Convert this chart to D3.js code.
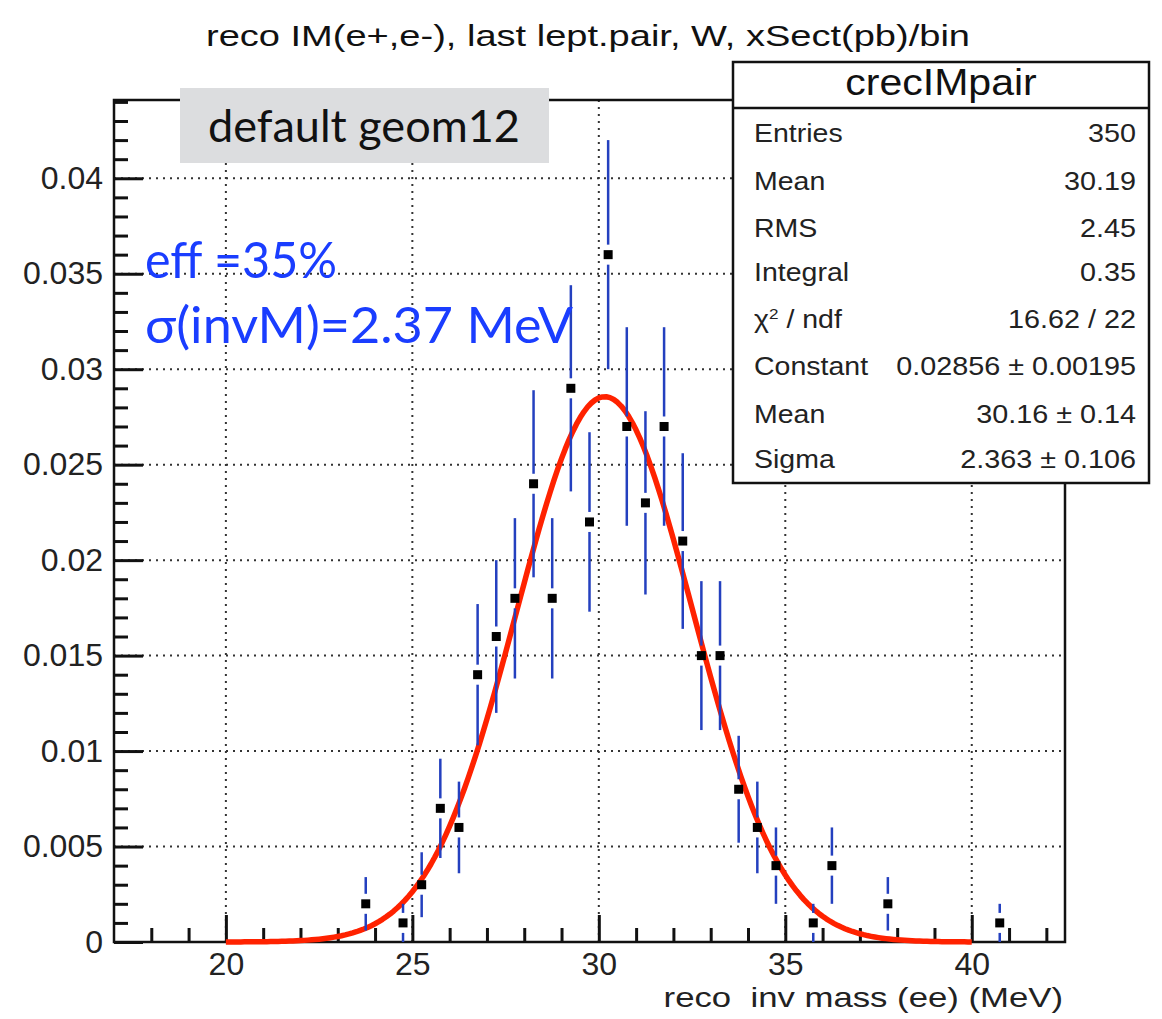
<!DOCTYPE html>
<html><head><meta charset="utf-8">
<script src="https://cdn.jsdelivr.net/npm/d3@7"></script>
<style>body{margin:0;background:#fff} text{white-space:pre}</style>
</head><body>
<svg id="c" width="1162" height="1019"></svg>
<script>
// ---- data ----
const binCenters = [23.75, 24.75, 25.25, 25.75, 26.25, 26.75, 27.25, 27.75, 28.25, 28.75, 29.25, 29.75, 30.25, 30.75, 31.25, 31.75, 32.25, 32.75, 33.25, 33.75, 34.25, 34.75, 35.75, 36.25, 37.75, 40.75];
const binValues  = [0.002, 0.001, 0.003, 0.007, 0.006, 0.014, 0.016, 0.018, 0.024, 0.018, 0.029, 0.022, 0.036, 0.027, 0.023, 0.027, 0.021, 0.015, 0.015, 0.008, 0.006, 0.004, 0.001, 0.004, 0.002, 0.001];
const binErrors  = [0.0014, 0.001, 0.0017, 0.0026, 0.0024, 0.0037, 0.004, 0.0042, 0.0049, 0.0042, 0.0054, 0.0047, 0.006, 0.0052, 0.0048, 0.0052, 0.0046, 0.0039, 0.0039, 0.0028, 0.0024, 0.002, 0.001, 0.002, 0.0014, 0.001];
const xTickValues = [20, 25, 30, 35, 40];
const xTickLabels = ["20", "25", "30", "35", "40"];
const yTickValues = [0, 0.005, 0.01, 0.015, 0.02, 0.025, 0.03, 0.035, 0.04];
const yTickLabels = ["0", "0.005", "0.01", "0.015", "0.02", "0.025", "0.03", "0.035", "0.04"];
const statsLabels = ["Entries", "Mean", "RMS", "Integral", "χ2 / ndf", "Constant", "Mean", "Sigma"];
const statsValues = ["350", "30.19", "2.45", "0.35", "16.62 / 22", "0.02856 ± 0.00195", "30.16 ± 0.14", "2.363 ± 0.106"];
const fitConstant = 0.02856, fitMean = 30.16, fitSigma = 2.363, fitRange = [20, 40];
const titleText = "reco IM(e+,e-), last lept.pair, W, xSect(pb)/bin";
const xTitle = "reco  inv mass (ee) (MeV)";
const statsName = "crecIMpair";
const noteText = "default geom12";
const effLines = ["eff =35%", "σ(invM)=2.37 MeV"];

// ---- layout ----
const svg = d3.select("#c");
const L = 114, R = 1065, T = 100, B = 942;
const x = d3.scaleLinear().domain([17, 42.5]).range([L, R]);
const y = d3.scaleLinear().domain([0, 0.0441]).range([B, T]);
const FONT = "'Liberation Sans', Arial, Helvetica, sans-serif";
const SANS2 = "Lato, 'Open Sans', sans-serif";

function stretch(sel, factor) {
  sel.each(function () {
    const w = this.getComputedTextLength();
    d3.select(this).attr("textLength", w * factor).attr("lengthAdjust", "spacingAndGlyphs");
  });
  return sel;
}
function fitWidth(sel, width) {
  return sel.attr("textLength", width).attr("lengthAdjust", "spacingAndGlyphs");
}

svg.append("rect").attr("width", 1162).attr("height", 1019).attr("fill", "#fff");

// title
fitWidth(svg.append("text").attr("x", 588).attr("y", 46).attr("text-anchor", "middle")
  .attr("font-family", FONT).attr("font-size", 30).attr("fill", "#111").text(titleText), 764);

// grid
const grid = svg.append("g").attr("stroke", "#333").attr("stroke-width", 2).attr("stroke-dasharray", "2,5");
grid.selectAll(".gx").data(xTickValues).join("line")
  .attr("x1", d => x(d)).attr("x2", d => x(d)).attr("y1", B).attr("y2", T);
grid.selectAll(".gy").data(yTickValues.filter(v => v > 0)).join("line")
  .attr("y1", d => y(d)).attr("y2", d => y(d)).attr("x1", L).attr("x2", R);

// frame
svg.append("rect").attr("x", L).attr("y", T).attr("width", R - L).attr("height", B - T)
  .attr("fill", "none").attr("stroke", "#111").attr("stroke-width", 2.5);

// axes
const xMinor = d3.range(18, 43, 1).filter(v => !xTickValues.includes(v));
const gxMinor = svg.append("g").attr("transform", `translate(0,${B})`)
  .call(d3.axisBottom(x).tickValues(xMinor).tickSizeInner(-14).tickSizeOuter(0).tickFormat(""));
const gx = svg.append("g").attr("transform", `translate(0,${B})`)
  .call(d3.axisBottom(x).tickValues(xTickValues).tickSizeInner(-27).tickSizeOuter(0).tickPadding(10)
    .tickFormat((d, i) => xTickLabels[i]));
const yMinorVals = d3.range(1, 45).map(k => k / 1000).filter(v => v <= 0.0441 && Math.round(v * 1000) % 5 !== 0);
const gyMinor = svg.append("g").attr("transform", `translate(${L},0)`)
  .call(d3.axisLeft(y).tickValues(yMinorVals).tickSizeInner(-14).tickSizeOuter(0).tickFormat(""));
const gy = svg.append("g").attr("transform", `translate(${L},0)`)
  .call(d3.axisLeft(y).tickValues(yTickValues).tickSizeInner(-29).tickSizeOuter(0).tickPadding(11)
    .tickFormat((d, i) => yTickLabels[i]));
[gx, gy, gxMinor, gyMinor].forEach(g => {
  g.selectAll("path.domain").remove();
  g.selectAll(".tick line").attr("stroke", "#111").attr("stroke-width", 3);
  g.selectAll("text").attr("font-family", FONT).attr("font-size", 32).attr("fill", "#222");
});
gx.selectAll("text").attr("dy", "0.71em");

// x title
stretch(svg.append("text").attr("x", 1063).attr("y", 1007).attr("text-anchor", "end")
  .attr("font-family", FONT).attr("font-size", 28).attr("fill", "#222").text(xTitle), 1.24);

// fit curve
const fitPts = d3.range(0, 201).map(i => {
  const xv = fitRange[0] + (fitRange[1] - fitRange[0]) * i / 200;
  return [xv, fitConstant * Math.exp(-0.5 * Math.pow((xv - fitMean) / fitSigma, 2))];
});
svg.append("path").datum(fitPts)
  .attr("d", d3.line().x(d => x(d[0])).y(d => y(d[1])))
  .attr("fill", "none").attr("stroke", "#ff2200").attr("stroke-width", 5.5).attr("stroke-linejoin", "round");

// error bars and markers
const pts = binCenters.map((c, i) => ({ c, v: binValues[i], e: binErrors[i] }));
const gap = 10;
const eb = svg.append("g").attr("stroke", "#2440bf").attr("stroke-width", 2.5);
pts.forEach(p => {
  const cx = x(p.c), cy = y(p.v), top = y(p.v + p.e), bot = y(Math.max(0, p.v - p.e));
  if (cy - gap > top) eb.append("line").attr("x1", cx).attr("x2", cx).attr("y1", top).attr("y2", cy - gap);
  if (bot > cy + gap) eb.append("line").attr("x1", cx).attr("x2", cx).attr("y1", cy + gap).attr("y2", bot);
});
svg.append("g").selectAll("rect").data(pts).join("rect")
  .attr("x", d => x(d.c) - 4.5).attr("y", d => y(d.v) - 4.5).attr("width", 9).attr("height", 9).attr("fill", "#000");

// stats box
const sb = svg.append("g");
sb.append("rect").attr("x", 733).attr("y", 62).attr("width", 416).attr("height", 421)
  .attr("fill", "#fff").attr("stroke", "#111").attr("stroke-width", 2.5);
sb.append("line").attr("x1", 733).attr("x2", 1149).attr("y1", 108).attr("y2", 108).attr("stroke", "#111").attr("stroke-width", 2.5);
stretch(sb.append("text").attr("x", 941).attr("y", 95).attr("text-anchor", "middle")
  .attr("font-family", FONT).attr("font-size", 36).attr("fill", "#111").text(statsName), 1.14);
const rowY = [141.7, 190, 236.7, 281, 328, 375, 423, 468];
statsLabels.forEach((lab, i) => {
  const t = sb.append("text").attr("x", 754).attr("y", rowY[i]).attr("font-family", FONT).attr("font-size", 25).attr("fill", "#222");
  if (lab.startsWith("χ2")) {
    t.append("tspan").text("χ");
    t.append("tspan").attr("dy", -9).attr("font-size", 15).text("2");
    t.append("tspan").attr("dy", 9).text(" / ndf");
  } else t.text(lab);
  stretch(t, 1.14);
  stretch(sb.append("text").attr("x", 1136).attr("y", rowY[i]).attr("text-anchor", "end")
    .attr("font-family", FONT).attr("font-size", 25).attr("fill", "#222").text(statsValues[i]), 1.15);
});

// note box
svg.append("rect").attr("x", 180).attr("y", 88).attr("width", 369).attr("height", 75).attr("fill", "#dcdddf");
fitWidth(svg.append("text").attr("x", 208).attr("y", 142).attr("font-family", SANS2)
  .attr("font-size", 44).attr("fill", "#111").text(noteText), 312);

// efficiency annotations
const effWidths = [192, 428];
effLines.forEach((s, i) => {
  fitWidth(svg.append("text").attr("x", 145).attr("y", [278, 343][i]).attr("font-family", SANS2)
    .attr("font-size", 50).attr("fill", "#1a3dff").text(s), effWidths[i]);
});
</script>
</body></html>
